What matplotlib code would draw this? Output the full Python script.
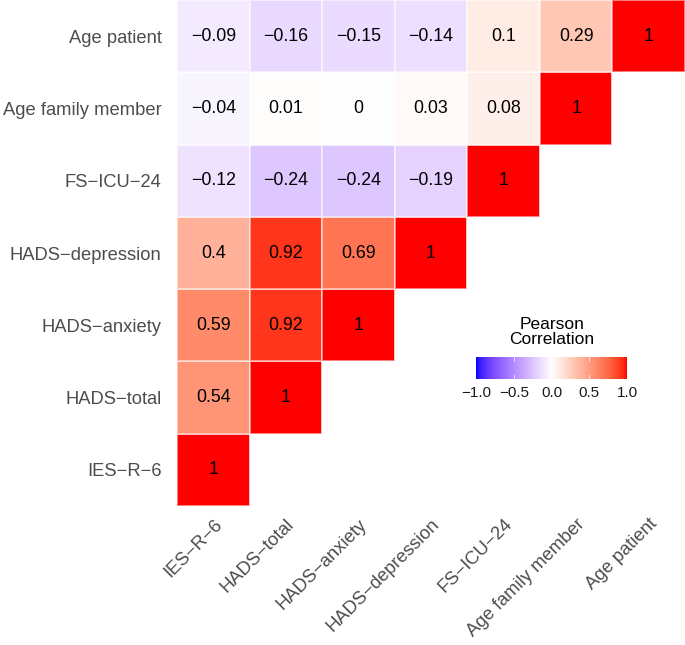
import numpy as np
import matplotlib
matplotlib.use("Agg")
import matplotlib.pyplot as plt
from matplotlib.colors import ListedColormap, Normalize

plt.rcParams['font.family'] = ['Liberation Sans', 'DejaVu Sans']

# variables, in plotting order (x left->right, y bottom->top)
variables = ["IES-R-6", "HADS-total", "HADS-anxiety", "HADS-depression",
             "FS-ICU-24", "Age family member", "Age patient"]

# correlations per row (row variable vs. columns from IES-R-6 onwards)
r_ies = [1]
r_hads_total = [0.54, 1]
r_hads_anx = [0.59, 0.92, 1]
r_hads_dep = [0.4, 0.92, 0.69, 1]
r_fsicu = [-0.12, -0.24, -0.24, -0.19, 1]
r_age_fam = [-0.04, 0.01, 0, 0.03, 0.08, 1]
r_age_pat = [-0.09, -0.16, -0.15, -0.14, 0.1, 0.29, 1]
rows = [r_ies, r_hads_total, r_hads_anx, r_hads_dep, r_fsicu, r_age_fam, r_age_pat]

legend_ticks = [-1.0, -0.5, 0.0, 0.5, 1.0]


# ggplot-like diverging gradient (interpolated in Lab space)
def srgb_to_lab(c):
    c = np.asarray(c, float)
    lin = np.where(c <= 0.04045, c / 12.92, ((c + 0.055) / 1.055) ** 2.4)
    M = np.array([[0.4124, 0.3576, 0.1805],
                  [0.2126, 0.7152, 0.0722],
                  [0.0193, 0.1192, 0.9505]])
    xyz = M @ lin / np.array([0.95047, 1.0, 1.08883])
    f = np.where(xyz > 0.008856, np.cbrt(xyz), 7.787 * xyz + 16 / 116)
    return np.array([116 * f[1] - 16, 500 * (f[0] - f[1]), 200 * (f[1] - f[2])])


def lab_to_srgb(lab):
    L, a, b = lab
    fy = (L + 16) / 116
    fx = fy + a / 500
    fz = fy - b / 200
    f = np.array([fx, fy, fz])
    xyz = np.where(f ** 3 > 0.008856, f ** 3, (f - 16 / 116) / 7.787)
    xyz = xyz * np.array([0.95047, 1.0, 1.08883])
    Minv = np.array([[3.2406, -1.5372, -0.4986],
                     [-0.9689, 1.8758, 0.0415],
                     [0.0557, -0.2040, 1.0570]])
    lin = np.clip(Minv @ xyz, 0, 1)
    c = np.where(lin <= 0.0031308, 12.92 * lin, 1.055 * lin ** (1 / 2.4) - 0.055)
    return np.clip(c, 0, 1)


lab_lo = srgb_to_lab([0, 0, 1])
lab_mid = srgb_to_lab([1, 1, 1])
lab_hi = srgb_to_lab([1, 0, 0])
cols = []
for t in np.linspace(-1, 1, 256):
    if t < 0:
        lab = lab_mid + (lab_lo - lab_mid) * (-t)
    else:
        lab = lab_mid + (lab_hi - lab_mid) * t
    cols.append(lab_to_srgb(lab))
cmap = ListedColormap(cols)
norm = Normalize(-1, 1)

n = len(variables)
mat = np.full((n, n), np.nan)
for i, r in enumerate(rows):
    for j, v in enumerate(r):
        mat[i, j] = v

fig = plt.figure(figsize=(6.85, 6.45), dpi=100)
ax = fig.add_axes([0.2584, 0.2155, 0.7416, 0.7845])
ax.pcolormesh(np.arange(n + 1), np.arange(n + 1), np.ma.masked_invalid(mat),
              cmap=cmap, norm=norm, edgecolor=(1, 1, 1, 0.5), linewidth=0.15)
for i in range(n):
    for j in range(n):
        if not np.isnan(mat[i, j]):
            v = mat[i, j]
            txt = "{:g}".format(v).replace("-", "\u2212")
            ax.text(j + 0.5, i + 0.5, txt, ha="center", va="center",
                    fontsize=12.8, color="black")

ax.set_xlim(0, n)
ax.set_ylim(0, n)
ax.set_xticks(np.arange(n) + 0.5)
ax.set_yticks(np.arange(n) + 0.5)
ax.set_xticklabels([v.replace("-", "\u2212") for v in variables],
                   rotation=45, ha="right", va="top", rotation_mode="anchor")
ax.set_yticklabels([v.replace("-", "\u2212") for v in variables])
ax.tick_params(axis="both", labelcolor="#4D4D4D", labelsize=13.2, length=0)
ax.tick_params(axis="y", pad=11)
ax.tick_params(axis="x", pad=7)
for s in ax.spines.values():
    s.set_visible(False)

# colour bar legend
cax = fig.add_axes([473 / 685, 1 - 379 / 645, 157 / 685, 22 / 645])
grad = np.linspace(-1, 1, 256).reshape(1, -1)
cax.imshow(grad, aspect="auto", cmap=cmap, norm=norm, extent=[-1, 1, 0, 1])
cax.set_ylim(0, 1)
cax.set_xlim(-1.04, 1.04)
cax.set_yticks([])
cax.set_xticks(legend_ticks)
cax.set_xticklabels(["{:.1f}".format(t).replace("-", "\u2212") for t in legend_ticks])
cax.tick_params(axis="x", length=0, labelsize=11, labelcolor="#1A1A1A", pad=5)
for t in legend_ticks[1:-1]:
    cax.plot([t, t], [0, 0.2], color="white", lw=0.6, alpha=0.8)
    cax.plot([t, t], [0.8, 1], color="white", lw=0.6, alpha=0.8)
for s in cax.spines.values():
    s.set_visible(False)
fig.text(552 / 685, 1 - 332 / 645, "Pearson\nCorrelation", ha="center", va="center",
         fontsize=12.5, linespacing=1.05)

fig.savefig("out.png", dpi=100)
